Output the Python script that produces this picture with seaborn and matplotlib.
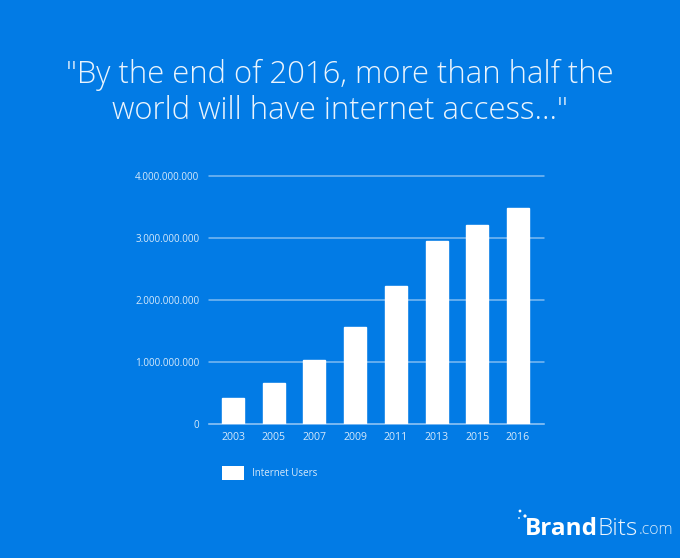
import matplotlib
matplotlib.use('Agg')
import matplotlib.pyplot as plt
from matplotlib.patches import Rectangle, Circle
from matplotlib.ticker import FuncFormatter
import pandas as pd
import seaborn as sns

years = ['2003', '2005', '2007', '2009', '2011', '2013', '2015', '2016']
users = [410000000, 650000000, 1020000000, 1560000000, 2220000000, 2950000000, 3200000000, 3470000000]
y_ticks = [0, 1000000000, 2000000000, 3000000000, 4000000000]
title_lines = ['"By the end of 2016, more than half the', 'world will have internet access..."']

BLUE = '#027BE5'
GRID = '#7DBAF2'
LABEL = '#D5E9FB'

sns.set_theme(style='white')
plt.rcParams['font.family'] = ['Open Sans', 'DejaVu Sans']

df = pd.DataFrame({'year': years, 'users': users})

fig = plt.figure(figsize=(6.8, 5.58), dpi=100, facecolor=BLUE)
W, H = 680, 558
ax = fig.add_axes([209 / W, 1 - 423.5 / H, 335 / W, 248 / H], facecolor=BLUE)

sns.barplot(data=df, x='year', y='users', color='white', saturation=1, width=0.54, ax=ax, zorder=3)

ax.set_xlim(-0.59, 7.64)
ax.set_ylim(0, 4000000000)
ax.set_yticks(y_ticks)
ax.yaxis.set_major_formatter(FuncFormatter(lambda v, p: f'{int(v):,}'.replace(',', '.')))
ax.set_xlabel('')
ax.set_ylabel('')
ax.grid(axis='y', color=GRID, linewidth=1.1, zorder=1)
ax.set_axisbelow(True)
ax.tick_params(axis='y', length=0, pad=7, labelsize=7.1, labelcolor=LABEL)
ax.tick_params(axis='x', length=0, pad=6, labelsize=7.6, labelcolor=LABEL)
sns.despine(ax=ax, left=True, top=True, right=True, bottom=False)
ax.spines['bottom'].set_color(GRID)
ax.spines['bottom'].set_linewidth(1.1)
for g in ax.get_ygridlines():
    g.set_clip_on(False)

# headline
fig.text(340 / W, 1 - 75 / H, title_lines[0], color='#EAF4FD', fontsize=22.3, ha='center', va='center', fontweight='light')
fig.text(340 / W, 1 - 111 / H, title_lines[1], color='#EAF4FD', fontsize=22.3, ha='center', va='center', fontweight='light')

# legend
fig.add_artist(Rectangle((222 / W, 1 - 480 / H), 22 / W, 14 / H, transform=fig.transFigure, facecolor='white', edgecolor='none'))
fig.text(252 / W, 1 - 474 / H, 'Internet Users', color=LABEL, fontsize=7.0, va='center')

# logo
t1 = fig.text(525 / W, 1 - 529 / H, 'Brand', color='white', fontsize=17.5, fontweight='bold', va='center')
fig.canvas.draw()
r = fig.canvas.get_renderer()
x1 = t1.get_window_extent(r).x1
t2 = fig.text(x1 / W, 1 - 529 / H, 'Bits', color='#EAF4FD', fontsize=17.5, fontweight='light', va='center')
x2 = t2.get_window_extent(r).x1
fig.text((x2 + 1) / W, 1 - 530.5 / H, '.com', color='#D5E9FB', fontsize=11.5, fontweight='light', va='center')
for cx, cy, rad in [(520, 511, 1.4), (525, 516, 1.6), (519, 518, 0.9)]:
    fig.add_artist(Circle((cx, H - cy), rad, transform=None, facecolor='white', edgecolor='none'))

fig.savefig('out.png', dpi=100, facecolor=BLUE)
